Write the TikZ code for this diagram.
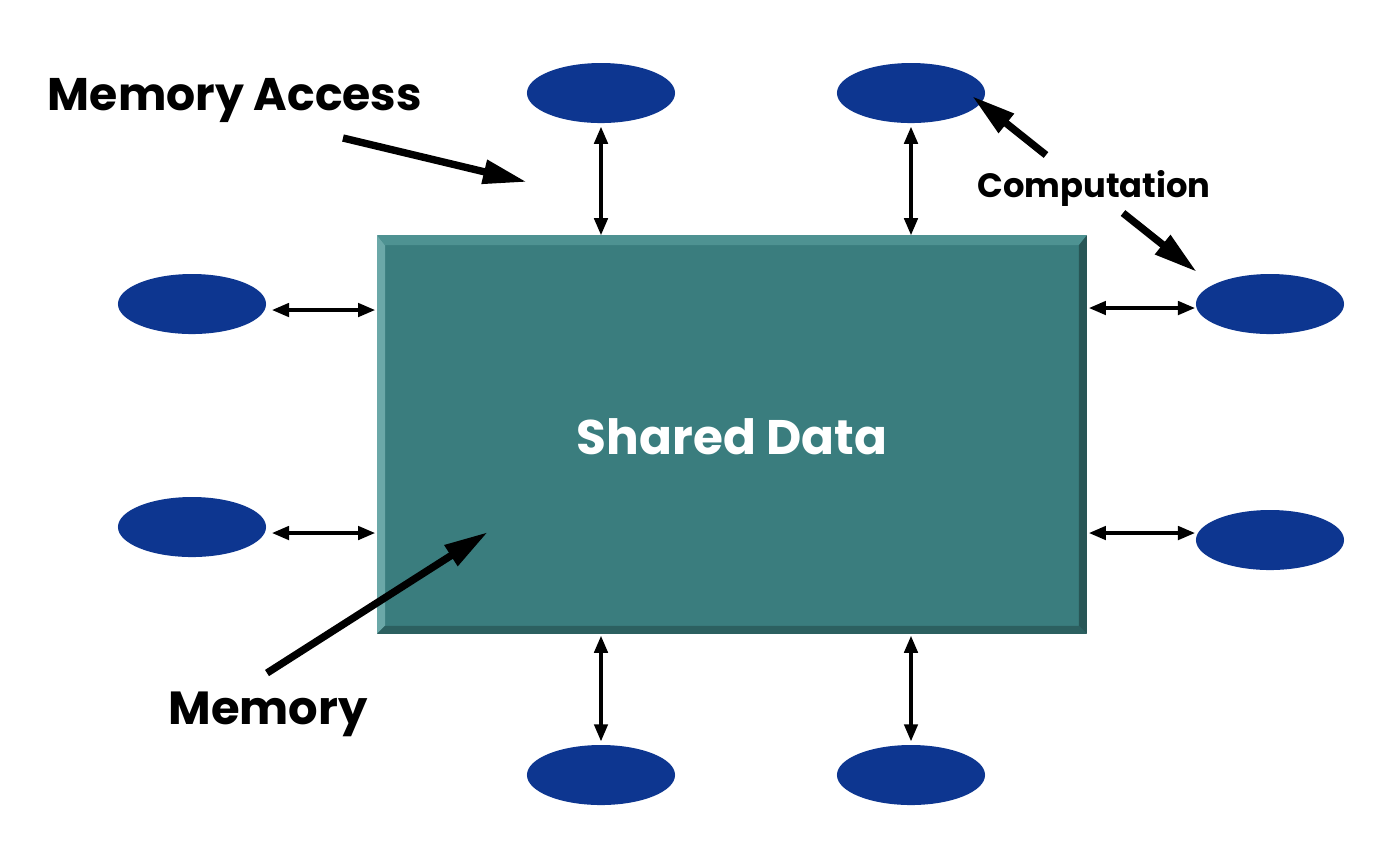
\documentclass[tikz,border=0pt]{standalone}
\usepackage{fontspec}
\setmainfont{Poppins}
\usetikzlibrary{arrows.meta,calc,shapes.geometric}
\definecolor{procblue}{HTML}{0D3690}
\definecolor{teal}{HTML}{3A7D7E}
\definecolor{teallight}{HTML}{6BA8A8}
\definecolor{tealtop}{HTML}{4E9292}
\definecolor{tealdark}{HTML}{2C6060}
\tikzset{
  proc/.style={ellipse,fill=procblue,inner sep=0pt,minimum width=1.48cm,minimum height=0.6cm},
  link/.style={line width=0.9pt,{Triangle[length=1.7mm,width=1.35mm]}-{Triangle[length=1.7mm,width=1.35mm]}},
  pointer/.style={line width=2.1pt,-{Triangle[length=4.4mm,width=2.3mm]}},
  lbl/.style={font=\bfseries,text=black,inner sep=0pt}
}
\begin{document}
\begin{tikzpicture}[x=0.01cm,y=-0.01cm]
\useasboundingbox (0,0) rectangle (1396,850);
% shared data box
\node[rectangle,fill=teal,minimum width=7.08cm,minimum height=3.97cm,inner sep=0pt] (box) at (732,434.5) {};
\fill[teallight] (box.north west) -- (box.south west) -- ($(box.south west)+(0.08cm,0.08cm)$) -- ($(box.north west)+(0.08cm,-0.1cm)$) -- cycle;
\fill[tealtop] (box.north west) -- (box.north east) -- ($(box.north east)+(-0.08cm,-0.1cm)$) -- ($(box.north west)+(0.08cm,-0.1cm)$) -- cycle;
\fill[tealdark] (box.south west) -- (box.south east) -- ($(box.south east)+(-0.08cm,0.08cm)$) -- ($(box.south west)+(0.08cm,0.08cm)$) -- cycle;
\fill[tealdark!90!black] (box.north east) -- (box.south east) -- ($(box.south east)+(-0.08cm,0.08cm)$) -- ($(box.north east)+(-0.08cm,-0.1cm)$) -- cycle;
\node[font=\bfseries\fontsize{13.8}{16}\selectfont,text=white,inner sep=0pt] (sd) at (732,437) {Shared Data};
% processes
\node[proc] (t1) at (601,93) {};
\node[proc] (t2) at (911,93) {};
\node[proc] (l1) at (192,304) {};
\node[proc] (l2) at (192,527) {};
\node[proc] (r1) at (1270,304) {};
\node[proc] (r2) at (1270,540) {};
\node[proc] (b1) at (601,775) {};
\node[proc] (b2) at (911,775) {};
% memory access links
\draw[link] ([yshift=-0.03cm]t1.south) -- (t1.south |- box.north);
\draw[link] ([yshift=-0.03cm]t2.south) -- (t2.south |- box.north);
\draw[link] ([yshift=0.03cm]b1.north) -- ([yshift=-0.02cm]b1.north |- box.south);
\draw[link] ([yshift=0.03cm]b2.north) -- ([yshift=-0.02cm]b2.north |- box.south);
\coordinate (l1a) at (272,310);
\coordinate (l2a) at (272,533);
\coordinate (r1a) at (1195,308);
\coordinate (r2a) at (1195,533);
\draw[link] (l1a) -- ([xshift=-0.02cm]l1a -| box.west);
\draw[link] (l2a) -- ([xshift=-0.02cm]l2a -| box.west);
\draw[link] (r1a) -- ([xshift=0.02cm]r1a -| box.east);
\draw[link] (r2a) -- ([xshift=0.02cm]r2a -| box.east);
% labels
\node[lbl,font=\bfseries\fontsize{13}{15}\selectfont] (ma) at (235,100) {Memory Access};
\node[lbl,font=\bfseries\fontsize{9.6}{11}\selectfont] (comp) at (1094,188) {Computation};
\node[lbl,font=\bfseries\fontsize{13.2}{15}\selectfont] (mem) at (268,714) {Memory};
% pointers
\coordinate (maS) at (343,138);
\coordinate (maE) at (527,182);
\draw[pointer] (maS) -- (maE);
\coordinate (c1S) at (1046,155);
\coordinate (c1E) at (972,96);
\draw[pointer] (c1S) -- (c1E);
\coordinate (c2S) at (1123,213);
\coordinate (c2E) at (1197,272);
\draw[pointer] (c2S) -- (c2E);
\coordinate (mS) at (267,673);
\coordinate (mE) at (488,532);
\draw[pointer] (mS) -- (mE);
\end{tikzpicture}
\end{document}
